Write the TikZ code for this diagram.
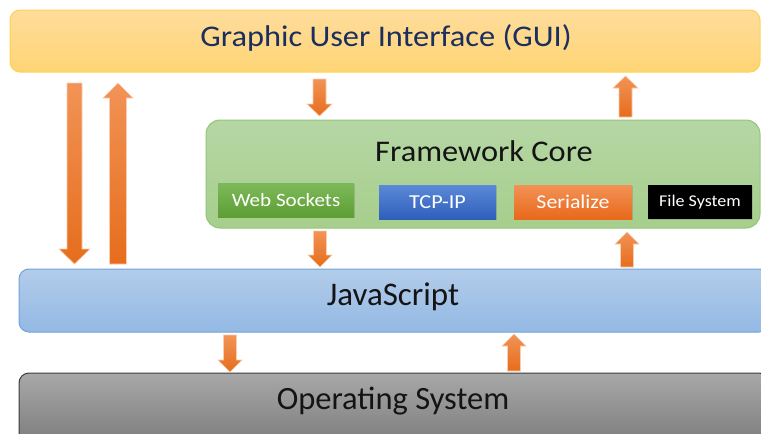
\documentclass[tikz,border=0pt]{standalone}
\usepackage{fontspec}
\setmainfont{Carlito}
\usetikzlibrary{calc,shadows}

\definecolor{guiTop}{HTML}{FEDC9C}
\definecolor{guiBot}{HTML}{FED574}
\definecolor{guiLine}{HTML}{FFD24F}
\definecolor{guiText}{HTML}{1B2F5E}
\definecolor{fcTop}{HTML}{B6D7A5}
\definecolor{fcBot}{HTML}{A6CE8C}
\definecolor{fcLine}{HTML}{95C47A}
\definecolor{jsTop}{HTML}{B3CCEA}
\definecolor{jsBot}{HTML}{93B9E4}
\definecolor{jsLine}{HTML}{6FA3DA}
\definecolor{osTop}{HTML}{A8A8A8}
\definecolor{osBot}{HTML}{7C7C7C}
\definecolor{osLine}{HTML}{3C3C3C}
\definecolor{arTop}{HTML}{F29356}
\definecolor{arBot}{HTML}{E66D1C}
\definecolor{arEdge}{HTML}{F9CDAE}
\definecolor{wsTop}{HTML}{7DB95A}
\definecolor{wsBot}{HTML}{5E9E34}
\definecolor{tcTop}{HTML}{5B89D7}
\definecolor{tcBot}{HTML}{2F5FBC}
\definecolor{seTop}{HTML}{F39257}
\definecolor{seBot}{HTML}{E8691A}

% vertical block arrow: [style]{from}{to}{half shaft}{half head}{head length}
\newcommand{\barrow}[6]{%
  \path[arrowbody,#1] let \p1=#2, \p2=#3, \n1={ifthenelse(\y2>\y1,1,-1)} in
    ({\x1-#4},\y1) -- ({\x1-#4},{\y2-\n1*#6}) -- ({\x1-#5},{\y2-\n1*#6})
    -- (\x1,\y2) -- ({\x1+#5},{\y2-\n1*#6}) -- ({\x1+#4},{\y2-\n1*#6})
    -- ({\x1+#4},\y1) -- cycle;}

\begin{document}
\begin{tikzpicture}[x=1pt,y=-1pt,
  layer/.style={rounded corners=10pt, line width=1pt, inner sep=0pt, outer sep=0pt},
  guibox/.style={layer, draw=guiLine, top color=guiTop, bottom color=guiBot},
  fcbox/.style={layer, rounded corners=14pt, draw=fcLine, top color=fcTop, bottom color=fcBot},
  jsbox/.style={layer, draw=jsLine, top color=jsTop, bottom color=jsBot},
  osbox/.style={layer, draw=osLine, top color=osTop, bottom color=osBot},
  module/.style={inner sep=0pt, outer sep=0pt, minimum height=34pt, text=white,
    drop shadow={opacity=0.35, shadow xshift=1pt, shadow yshift=-1pt}},
  arrowbody/.style={draw=arEdge, line width=0.6pt, top color=arTop, bottom color=arBot},
  title/.style={inner sep=0pt}
]
\useasboundingbox (0,0) rectangle (761,434);

% layers
\node[guibox, minimum width=750pt, minimum height=62pt] (gui) at (385,41) {};
\node[title, text=guiText, font=\fontsize{30}{34}\selectfont] (guit) at (386,38)
  {\scalebox{1.08}[1]{Graphic User Interface (GUI)}};

\node[fcbox, minimum width=554pt, minimum height=108pt] (fc) at (483,174) {};
\node[title, text=black!92, font=\fontsize{30}{34}\selectfont] (fct) at (484,151)
  {\scalebox{1.08}[1]{Framework Core}};

\node[jsbox, minimum width=750pt, minimum height=63pt] (js) at (394,300.5) {};
\node[title, text=black!92, font=\fontsize{33}{36}\selectfont] (jst) at (393,297) {JavaScript};

\node[osbox, minimum width=750pt, minimum height=72pt] (os) at (394,409) {};
\node[title, text=black!92, font=\fontsize{32.5}{36}\selectfont] (ost) at (393,401) {Operating System};

% modules of the framework core
\node[module, minimum width=136pt, top color=wsTop, bottom color=wsBot,
  font=\fontsize{18.8}{21}\selectfont] (ws) at (286,200)
  {\scalebox{1.12}[1]{Web Sockets}};
\node[module, minimum width=117pt, top color=tcTop, bottom color=tcBot,
  font=\fontsize{19.8}{22}\selectfont] (tcp) at (437.5,202)
  {\scalebox{1.12}[1]{TCP-IP}};
\node[module, minimum width=118pt, top color=seTop, bottom color=seBot,
  font=\fontsize{19.5}{22}\selectfont] (ser) at (573,202)
  {\scalebox{1.12}[1]{Serialize}};
\node[module, minimum width=104pt, fill=black,
  font=\fontsize{16.4}{19}\selectfont] (fs) at (700,202)
  {\scalebox{1.1}[1]{File System}};

% arrow end points
\coordinate (gjA) at (74.5,83);   \coordinate (gjB) at (74.5,264);
\coordinate (jgA) at (118,264);   \coordinate (jgB) at (118,83);
\coordinate (gfA) at (319.5,79);  \coordinate (gfB) at (319.5,116);
\coordinate (fgA) at (625.5,117); \coordinate (fgB) at (625.5,76);
\coordinate (fjA) at (320,231);   \coordinate (fjB) at (320,267);
\coordinate (jfA) at (627,267);   \coordinate (jfB) at (627,232);
\coordinate (joA) at (230,335);   \coordinate (joB) at (230,372);
\coordinate (ojA) at (514,371);   \coordinate (ojB) at (514,334);

% arrows between the layers
\barrow{}{(gjA)}{(gjB)}{7.5pt}{15.5pt}{15pt}
\barrow{}{(jgA)}{(jgB)}{8.5pt}{15pt}{15pt}
\barrow{}{(gfA)}{(gfB)}{6.5pt}{12.5pt}{12pt}
\barrow{}{(fgA)}{(fgB)}{6.5pt}{12.5pt}{12pt}
\barrow{}{(fjA)}{(fjB)}{6.5pt}{12pt}{12pt}
\barrow{}{(jfA)}{(jfB)}{6.5pt}{12pt}{12pt}
\barrow{}{(joA)}{(joB)}{6.5pt}{12pt}{12pt}
\barrow{}{(ojA)}{(ojB)}{6.5pt}{12pt}{12pt}
\end{tikzpicture}
\end{document}
